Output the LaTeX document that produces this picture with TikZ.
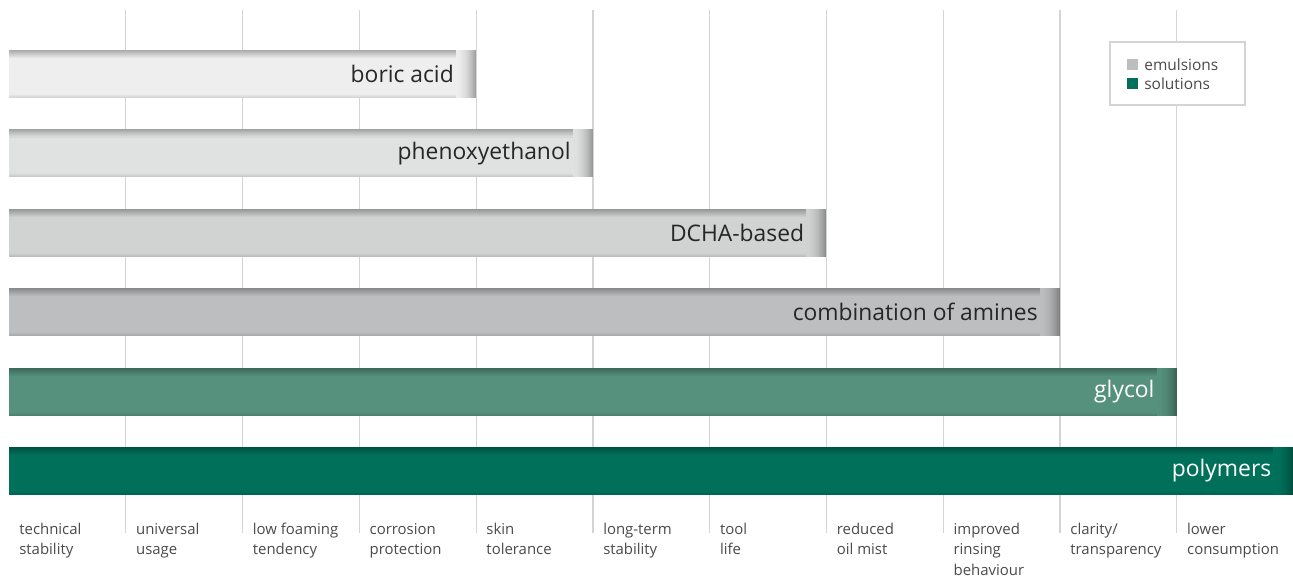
\documentclass[tikz,border=0pt]{standalone}
\usepackage{fontspec}
\setmainfont{Open Sans}
\definecolor{gridgray}{HTML}{D4D4D4}
\definecolor{labelgray}{HTML}{4A4A4A}
\definecolor{boriccol}{HTML}{EEEEEE}
\definecolor{phenoxycol}{HTML}{E0E1E1}
\definecolor{dchacol}{HTML}{D1D2D2}
\definecolor{aminecol}{HTML}{BDBEC0}
\definecolor{glycolcol}{HTML}{55917D}
\definecolor{polycol}{HTML}{00705A}
\tikzset{
  gridline/.style={draw=gridgray,line width=0.7pt},
  barlabel/.style={anchor=east,inner sep=0pt,font=\fontsize{13}{15}\selectfont},
  axislabel/.style={anchor=north west,align=left,inner sep=0pt,text=labelgray,
    font=\fontsize{8.5}{11.5}\selectfont},
  legendtext/.style={anchor=west,inner sep=0pt,text=labelgray,font=\fontsize{8.8}{10}\selectfont}
}
\begin{document}
\begin{tikzpicture}[x=0.02cm,y=-0.02cm]
\useasboundingbox (0,0) rectangle (1293,577);
% grid
\foreach \i in {1,...,10}
  \draw[gridline] ({9+\i*116.78},10) -- ({9+\i*116.78},533);
% bars
\foreach \name/\lab/\col/\txt/\n/\row in {
    boric/boric acid/boriccol/black!85/4/0,
    phenoxy/phenoxyethanol/phenoxycol/black!85/5/1,
    dcha/DCHA-based/dchacol/black!85/7/2,
    amines/combination of amines/aminecol/black!85/9/3,
    glycol/glycol/glycolcol/white/10/4,
    polymers/polymers/polycol/white/11/5} {
  \pgfmathsetmacro{\yc}{74+\row*79.4}
  \pgfmathsetmacro{\xe}{9+\n*116.78}
  \fill[\col] (9,\yc-24) rectangle (\xe,\yc+24);
  % soft inner shadow, top, bottom and right
  \foreach \k in {0,...,7} {
    \pgfmathtruncatemacro{\p}{72+3.5*\k}
    \fill[\col!\p!black] (9,\yc-24+\k) rectangle (\xe,\yc-22.8+\k);
  }
  \foreach \k in {0,...,3} {
    \pgfmathtruncatemacro{\p}{90+3*\k}
    \fill[\col!\p!black] (9,\yc+24-\k) rectangle (\xe,\yc+22.8-\k);
  }
  \foreach \k in {0,...,19} {
    \pgfmathtruncatemacro{\p}{100-32*(1-\k/19)^2}
    \fill[\col!\p!black] (\xe-\k,\yc-24) rectangle (\xe-1.2-\k,\yc+24);
  }
  \node[barlabel,text=\txt] (\name) at (\xe-22,\yc) {\lab};
}
% legend
\draw[gridline,fill=white] (1110,42) rectangle (1245,105);
\fill[aminecol] (1127,59) rectangle (1138,70);
\fill[polycol] (1127,78) rectangle (1138,89);
\node[legendtext] (emulsions) at (1144,64.5) {emulsions};
\node[legendtext] (solutions) at (1144,83.5) {solutions};
% properties
\foreach \lab [count=\i from 0] in {technical\\stability, universal\\usage,
    low foaming\\tendency, corrosion\\protection, skin\\tolerance,
    long-term\\stability, tool\\life, reduced\\oil mist,
    improved\\rinsing\\behaviour, clarity/\\transparency, lower\\consumption}
  \node[axislabel] (prop\i) at ({19+\i*116.78},523) {\lab};
\end{tikzpicture}
\end{document}
